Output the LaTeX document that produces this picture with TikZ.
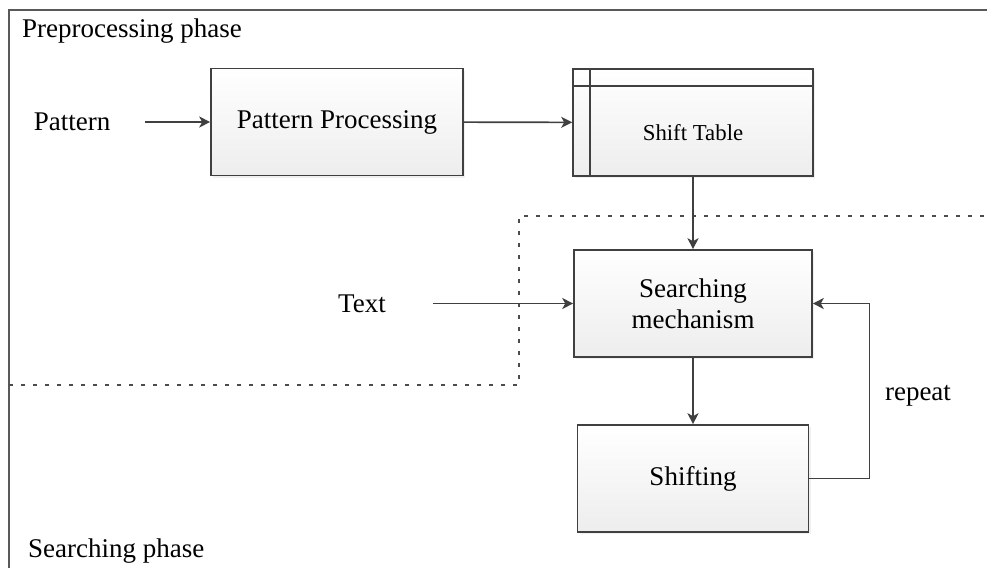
\documentclass[tikz,border=0pt]{standalone}
\usepackage{fontspec}
\setmainfont{Liberation Serif}
\usetikzlibrary{arrows.meta,shadows}

\tikzset{
  caja/.style={draw=black!75, line width=0.8pt, top color=white, bottom color=black!7,
    minimum width=#1, minimum height=53.5pt, align=center, inner sep=2pt,
    font=\fontsize{13.5}{15.5}\selectfont,
    drop shadow={opacity=0.12, shadow xshift=1pt, shadow yshift=-1pt}},
  rotulo/.style={font=\fontsize{13.5}{16}\selectfont},
  flecha/.style={draw=black!75, line width=0.8pt, -{Stealth[length=5.5pt, width=5.5pt, inset=1.5pt]}},
  marco/.style={draw=black!65, line width=1pt},
  limite/.style={draw=black!70, line width=0.6pt, dash pattern=on 2pt off 4pt}
}

\begin{document}
\begin{tikzpicture}[x=0.5pt, y=-0.5pt]

\useasboundingbox (0,0) rectangle (987,568);

\draw[marco] (987,10) -- (9,10) -- (9,568); % borde
\draw[limite] (9,385) -- (519,385) -- (519,216) -- (987,216); % separa las fases

\node[rotulo, anchor=west] (pre) at (15,31) {Preprocessing phase};
\node[rotulo, anchor=west] (bus) at (21,551) {Searching phase};

\node[caja=126pt] (proc) at (337,122) {Pattern Processing};
\node[caja=120pt] (tabla) at (693,122.5) {};
\draw[draw=black!75, line width=0.8pt] ([yshift=-9pt]tabla.north west) -- ([yshift=-9pt]tabla.north east);
\draw[draw=black!75, line width=0.8pt] ([xshift=9pt]tabla.north west) -- ([xshift=9pt]tabla.south west);
\node[font=\fontsize{11.4}{13}\selectfont] (tablatxt) at ([yshift=-5pt]tabla.center) {Shift Table};

\node[caja=119pt] (busca) at (693,303.5) {Searching\\mechanism};
\node[caja=115.5pt] (despl) at (693,478.5) {Shifting};

\node[rotulo] (patron) at (72,122) {Pattern};
\node[rotulo] (texto) at (362,303.5) {Text};
\node[rotulo] (rep) at (918,396) {repeat};

\draw[flecha, shorten <=14pt] (patron) -- (proc);
\draw[flecha] (proc) -- (tabla);
\draw[flecha] (tabla) -- (busca);
\draw[flecha, shorten <=20pt] (texto) -- (busca);
\draw[flecha] (busca) -- (despl);
\draw[flecha] (despl.east) -- ++(60,0) |- (busca.east);

\end{tikzpicture}
\end{document}
